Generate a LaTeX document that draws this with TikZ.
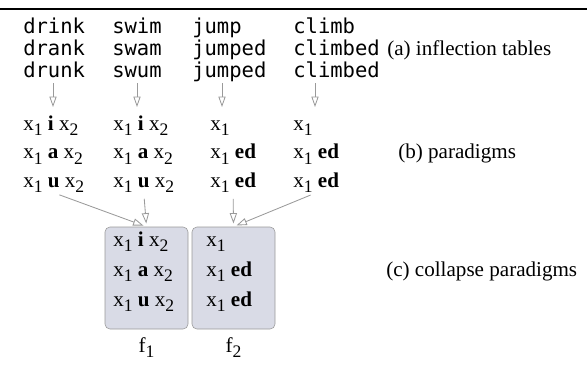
\documentclass[tikz,border=0pt]{standalone}
\usepackage{fontspec}
\setmainfont{Liberation Serif}
\setmonofont{DejaVu Sans Mono}
\usetikzlibrary{arrows.meta,positioning}
\definecolor{boxfill}{HTML}{D9DBE6}
\definecolor{boxline}{HTML}{999999}
\definecolor{passgray}{HTML}{9A9A9A}
\newcommand{\wordfont}{\fontsize{14.6}{15.65}\selectfont\ttfamily}
\newcommand{\parafont}{\fontsize{15}{20.2}\selectfont}
\newcommand{\cellfont}{\fontsize{15}{21.3}\selectfont}
\newcommand{\varsub}[2]{#1\raisebox{-3.9pt}{\fontsize{12.5}{12.5}\selectfont #2}}

\begin{document}
\begin{tikzpicture}[
  word/.style={anchor=base west, inner sep=0, align=left, font=\wordfont},
  para/.style={anchor=base west, inner sep=0, align=left, font=\parafont},
  cellgroup/.style={anchor=base west, inner sep=0, align=left, font=\cellfont},
  collapsed/.style={rectangle, draw=boxline, fill=boxfill, rounded corners=3.5pt, minimum width=2.075cm, minimum height=2.55cm, inner sep=0},
  stage/.style={anchor=base west, inner sep=0, font=\fontsize{15}{18}\selectfont},
  pass/.style={draw=passgray, line width=0.6pt, -{Triangle[open, length=2.6mm, width=1.8mm]}}
]
  \useasboundingbox (0,0) rectangle (14.675,-9.225);
  \draw[line width=0.05cm] (0,-0.2125) -- (14.675,-0.2125);
  % (a) inflection tables (placed by the last line)
  \node[word] (w1) at (0.575,-1.925) {drink\\drank\\drunk};
  \node[word] (w2) at (2.8,  -1.925) {swim\\swam\\swum};
  \node[word] (w3) at (4.8,  -1.925) {jump\\jumped\\jumped};
  \node[word] (w4) at (7.325,-1.925) {climb\\climbed\\climbed};
  \node[stage] (la) at (9.675,-1.375) {(a) inflection tables};
  % (b) paradigms
  \node[para] (p1) at (0.575,-4.675) {\varsub{x}{1} \textbf{i} \varsub{x}{2}\\\varsub{x}{1} \textbf{a} \varsub{x}{2}\\\varsub{x}{1} \textbf{u} \varsub{x}{2}};
  \node[para] (p2) at (2.825,-4.675) {\varsub{x}{1} \textbf{i} \varsub{x}{2}\\\varsub{x}{1} \textbf{a} \varsub{x}{2}\\\varsub{x}{1} \textbf{u} \varsub{x}{2}};
  \node[para] (p3) at (5.25, -4.675) {\varsub{x}{1}\\\varsub{x}{1} \textbf{ed}\\\varsub{x}{1} \textbf{ed}};
  \node[para] (p4) at (7.325,-4.675) {\varsub{x}{1}\\\varsub{x}{1} \textbf{ed}\\\varsub{x}{1} \textbf{ed}};
  \node[stage] (lb) at (9.95,-3.95) {(b) paradigms};
  % tables -> paradigms
  \coordinate (t1) at (1.325,-2.075);
  \coordinate (t2) at (3.425,-2.075);
  \coordinate (t3) at (5.55, -2.075);
  \coordinate (t4) at (7.875,-2.075);
  \foreach \i in {1,...,4}
    \draw[pass] (t\i) -- ++(0,-0.6);
  % (c) collapse paradigms
  \node[collapsed] (f1box) at (3.6625,-6.95) {};
  \node[collapsed] (f2box) at (5.8375,-6.95) {};
  \node[cellgroup] (c1) at (2.825,-7.65) {\varsub{x}{1} \textbf{i} \varsub{x}{2}\\\varsub{x}{1} \textbf{a} \varsub{x}{2}\\\varsub{x}{1} \textbf{u} \varsub{x}{2}};
  \node[cellgroup] (c2) at (5.15, -7.65) {\varsub{x}{1}\\\varsub{x}{1} \textbf{ed}\\\varsub{x}{1} \textbf{ed}};
  \node[below=0.2cm of f1box, inner sep=0, font=\fontsize{15}{18}\selectfont] (f1) {\varsub{f}{1}};
  \node[below=0.2cm of f2box, inner sep=0, font=\fontsize{15}{18}\selectfont] (f2) {\varsub{f}{2}};
  \node[stage] (lc) at (9.65,-6.9) {(c) collapse paradigms};
  % paradigms -> collapsed
  \draw[pass, shorten <=0.15cm, shorten >=0.08cm] (p1.south) -- (f1box.north);
  \draw[pass, shorten <=0.15cm, shorten >=0.08cm] (p2.south) -- (f1box.north);
  \draw[pass, shorten <=0.15cm, shorten >=0.08cm] (p3.south) -- (f2box.north);
  \draw[pass, shorten <=0.15cm, shorten >=0.08cm] (p4.south) -- (f2box.north);
\end{tikzpicture}
\end{document}
